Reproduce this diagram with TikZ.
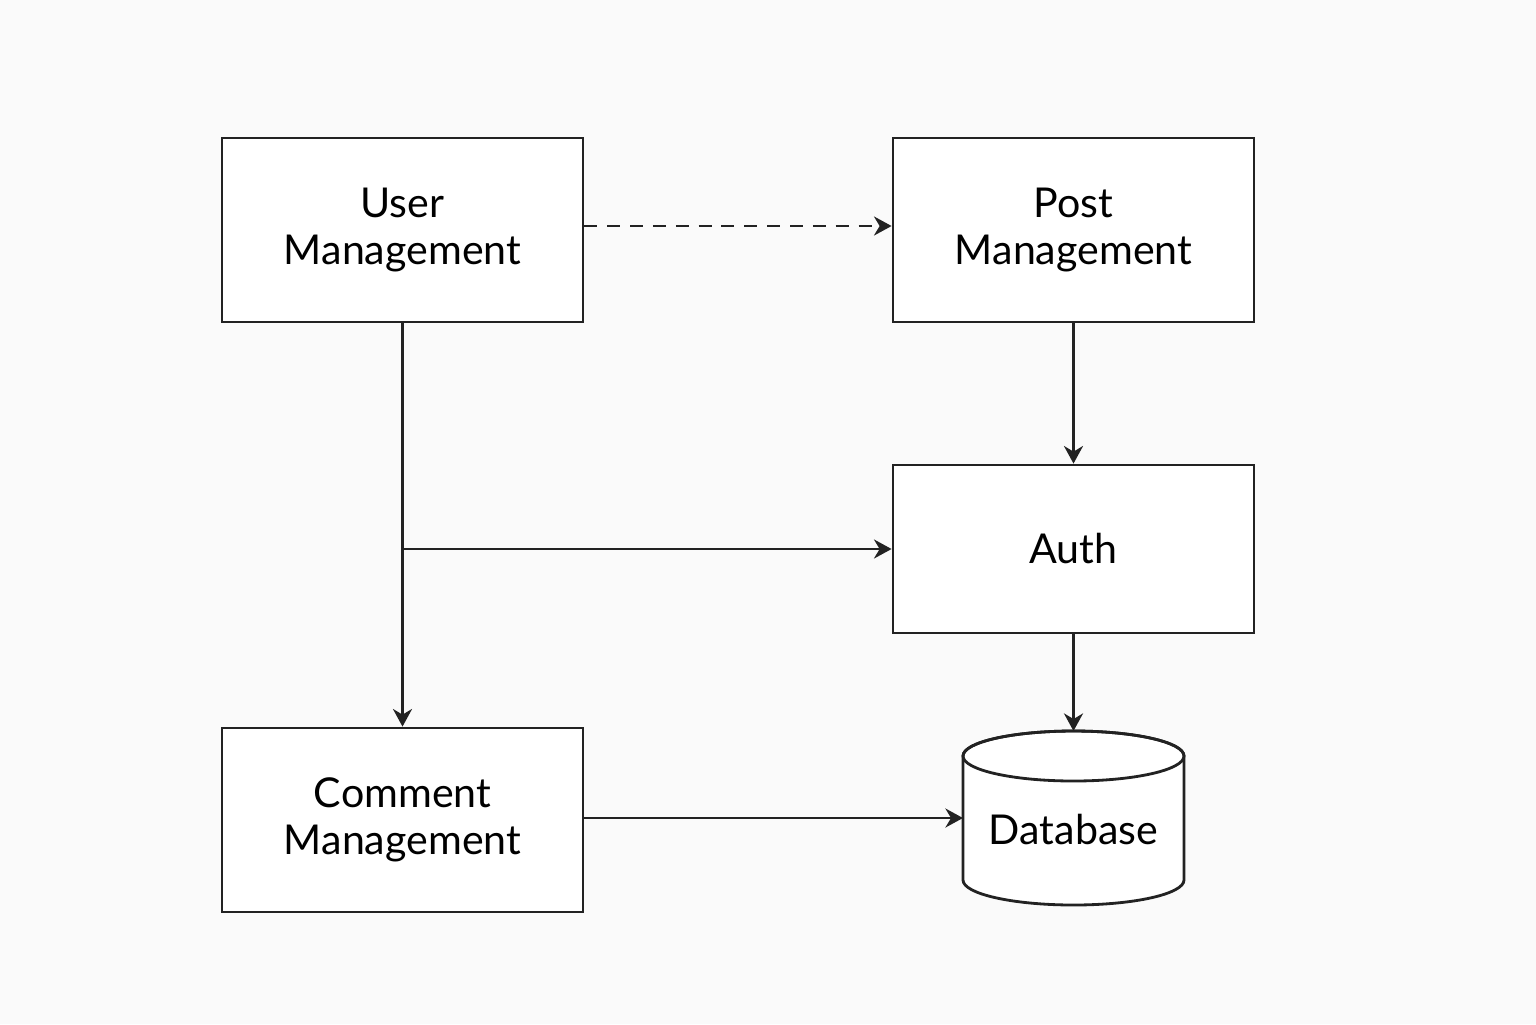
\documentclass[tikz,border=0pt]{standalone}
\usepackage{fontspec}
\setmainfont{Lato}
\usetikzlibrary{arrows.meta,positioning,calc}
\definecolor{ink}{RGB}{34,34,34}
\definecolor{paper}{RGB}{250,250,250}
\tikzset{
  box/.style={draw=ink,line width=0.8pt,fill=white,minimum width=3.61cm,
    inner sep=0pt,align=center,font=\fontsize{11.7}{13.4}\selectfont},
  ar/.style={draw=ink,line width=0.8pt,-{Stealth[length=5pt,width=5.4pt,inset=1.6pt]}},
  dar/.style={ar,dash pattern=on 3.7pt off 2.8pt},
}
\begin{document}
\begin{tikzpicture}
  \fill[paper] (0,0) rectangle (15.36,-10.24);

  % modules
  \node[box,minimum height=1.84cm] (user) at (4.025,-2.30) {User\\Management};
  \node[box,minimum height=1.84cm] (post) at (10.735,-2.30) {Post\\Management};
  \node[box,minimum height=1.68cm] (auth) at (10.735,-5.49) {Auth};
  \node[box,minimum height=1.84cm] (comment) at (4.025,-8.20) {Comment\\Management};

  % database drum
  \node[minimum width=2.21cm,inner sep=0pt] (db) at (10.735,-8.30) {};
  \coordinate (dbtop) at ($(db.center)+(0,0.99)$);
  \coordinate (dbwest) at ($(db.center)+(-1.105,0.12)$);
  \filldraw[draw=ink,fill=white,line width=0.8pt]
    ($(db.center)+(-1.105,0.74)$) -- ($(db.center)+(-1.105,-0.50)$)
    arc[start angle=180,end angle=360,x radius=1.105,y radius=0.25]
    -- ($(db.center)+(1.105,0.74)$)
    arc[start angle=0,end angle=180,x radius=1.105,y radius=0.25] -- cycle;
  \draw[ink,line width=0.8pt] ($(db.center)+(0,0.74)$)
    ellipse[x radius=1.105,y radius=0.25];
  \node[font=\fontsize{11.7}{13.4}\selectfont] (dbtext) at (db.center) {Database};

  % links
  \coordinate (split) at (user.south |- auth.west);
  \draw[dar] ([yshift=0.4mm]user.east) -- ([yshift=0.4mm]post.west);
  \draw[ar] (post) -- (auth);
  \draw[ar] (user) -- (comment);
  \draw[ar] (split) -- (auth.west);
  \draw[ar] (auth) -- (dbtop);
  \draw[ar] (comment.east |- dbwest) -- (dbwest);
\end{tikzpicture}
\end{document}
